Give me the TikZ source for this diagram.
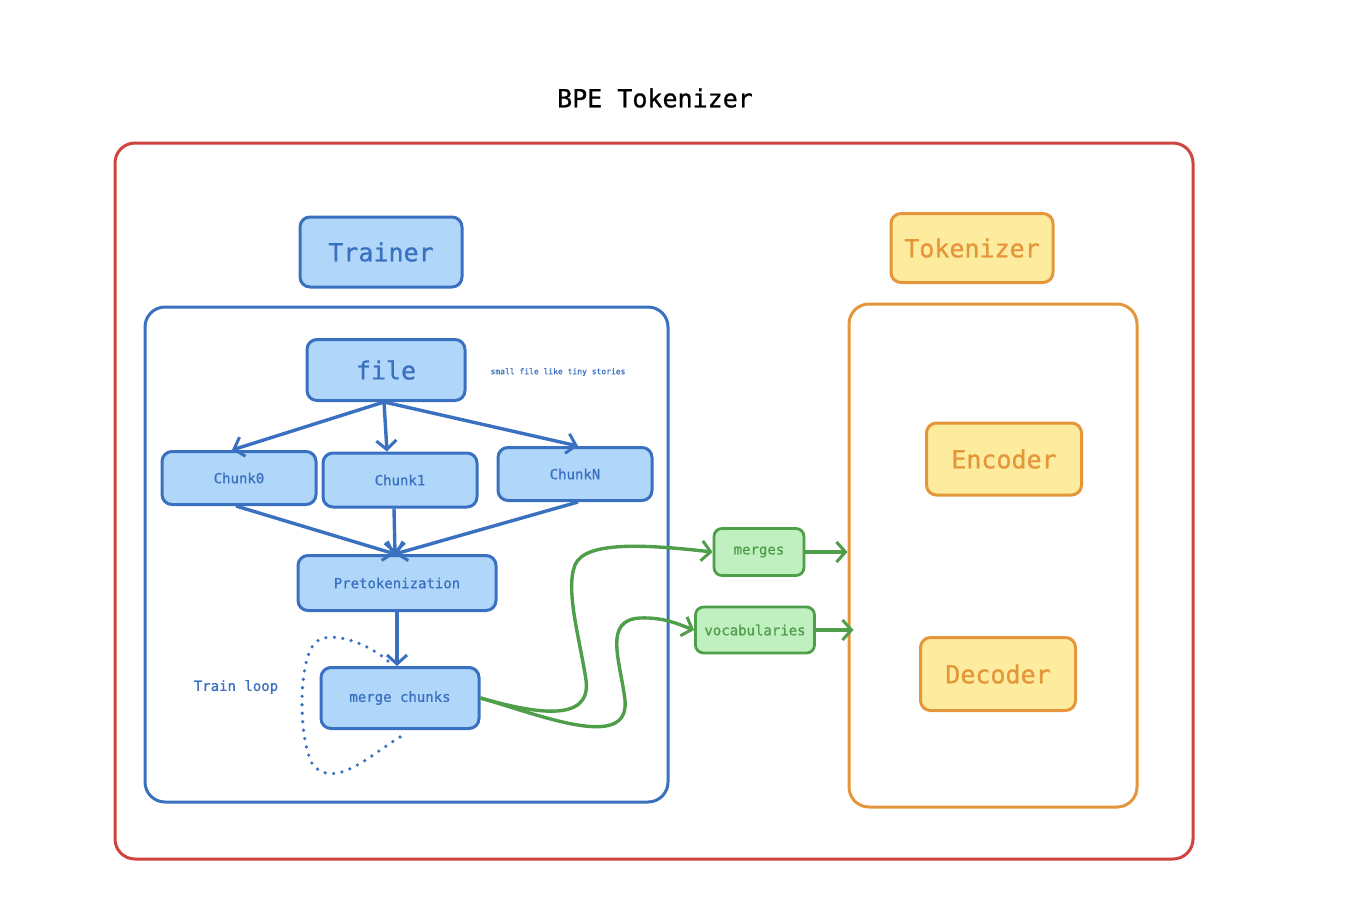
\documentclass[tikz,border=0pt]{standalone}
\usepackage{fontspec}
\setmainfont{DejaVu Sans Mono}[FakeBold=0.8]
\usetikzlibrary{arrows.meta}
\definecolor{bpered}{HTML}{D0443F}
\definecolor{bpeblue}{HTML}{3A70C0}
\definecolor{bpebluefill}{HTML}{B0D7FA}
\definecolor{bpeorange}{HTML}{E5963A}
\definecolor{bpeyellow}{HTML}{FDEC9E}
\definecolor{bpegreen}{HTML}{4F9E4A}
\definecolor{bpegreenfill}{HTML}{C0F0C0}
\def\fsz#1{\fontsize{#1}{#1}\selectfont}

\begin{document}
\begin{tikzpicture}[x=1pt, y=-1pt,
		bluebox/.style={draw=bpeblue, fill=bpebluefill, line width=3pt, rounded corners=10pt, inner sep=0pt, text=bpeblue},
		yellowbox/.style={draw=bpeorange, fill=bpeyellow, line width=3pt, rounded corners=10pt, inner sep=0pt, text=bpeorange},
		greenbox/.style={draw=bpegreen, fill=bpegreenfill, line width=2.8pt, rounded corners=8pt, inner sep=0pt, text=bpegreen},
		frame/.style={draw, line width=3pt, rounded corners=20pt, inner sep=0pt},
		barb/.style={-{Straight Barb[length=9pt, width=20pt, line width=3pt]}},
		bluearrow/.style={barb, draw=bpeblue, line width=3.4pt},
		greenarrow/.style={barb, draw=bpegreen, line width=3.4pt}]
			%%%%% START %%%%%
			\useasboundingbox (0, 0) rectangle (1358, 922);
			
			\node (title) at (655, 98) {\fsz{25}BPE Tokenizer};
			\node[frame, draw=bpered, minimum width=1078pt, minimum height=716pt] (outer) at (654, 501) {};
			
			% trainer side
			\node[bluebox, minimum width=162pt, minimum height=70pt] (trainer) at (381, 252) {\fsz{25}Trainer};
			\node[frame, draw=bpeblue, minimum width=523pt, minimum height=495pt] (trainbox) at (406.5, 554.5) {};
			
			\node[bluebox, minimum width=158pt, minimum height=61pt] (file) at (386, 370) {\fsz{25}file};
			\node[text=bpeblue] (note) at (558, 372) {\fsz{8}small file like tiny stories};
			
			\node[bluebox, minimum width=154pt, minimum height=53pt] (chunk0) at (239, 478) {\fsz{14}Chunk0};
			\node[bluebox, minimum width=154pt, minimum height=54pt] (chunk1) at (400, 480) {\fsz{14}Chunk1};
			\node[bluebox, minimum width=154pt, minimum height=53pt] (chunkN) at (575, 474) {\fsz{14}ChunkN};
			
			\node[bluebox, minimum width=198pt, minimum height=55pt] (pretok) at (397, 583) {\fsz{14}Pretokenization};
			\node[bluebox, minimum width=158pt, minimum height=61pt] (merge) at (400, 698) {\fsz{14}merge chunks};
			\node[text=bpeblue] (loop) at (236, 687) {\fsz{14}Train loop};
			
			\draw[bluearrow] (file.south) ++(-2, 0) coordinate (fileout) -- (chunk0.north -| 232, 0);
			\draw[bluearrow] (fileout) -- (chunk1.north -| 387, 0);
			\draw[bluearrow] (fileout) -- (chunkN.north -| 578, 0);
			\draw[bluearrow] (chunk0.south -| 236, 0) -- (pretok.north -| 395, 0);
			\draw[bluearrow] (chunk1.south -| 394, 0) -- (pretok.north -| 395, 0);
			\draw[bluearrow] (chunkN.south -| 578, 0) -- (pretok.north -| 395, 0);
			\draw[bluearrow] (pretok.south) -- (merge.north -| pretok.south);
			
			\coordinate (loopstart) at (400, 737);
			\coordinate (loopend) at (390, 663);
			\draw[bpeblue, line width=3.6pt, dash pattern=on 0pt off 8.5pt, line cap=round] (loopstart) .. controls (370, 755) and (335, 790) .. (313, 765)
				.. controls (298, 740) and (298, 660) .. (315, 643) .. controls (330, 628) and (372, 645) .. (loopend);
			
			% outputs
			\node[greenbox, minimum width=90pt, minimum height=47pt] (merges) at (759, 552) {\fsz{14}merges};
			\node[greenbox, minimum width=119pt, minimum height=46pt] (vocab) at (755, 630) {\fsz{14}vocabularies};
			
			\draw[greenarrow] (merge.east) .. controls (530, 712) and (592, 725) .. (586, 680)
				.. controls (580, 640) and (565, 590) .. (575, 565) .. controls (585, 540) and (650, 545) .. (merges.west);
			\draw[greenarrow] (merge.east) .. controls (540, 715) and (630, 752) .. (625, 700)
				.. controls (620, 660) and (603, 620) .. (640, 618) .. controls (665, 617) and (680, 625) .. (vocab.west);
			
			% tokenizer side
			\node[yellowbox, minimum width=162pt, minimum height=69pt] (tokenizer) at (972, 248) {\fsz{25}Tokenizer};
			\node[frame, draw=bpeorange, minimum width=288pt, minimum height=503pt] (tokbox) at (993, 555.5) {};
			\node[yellowbox, minimum width=155pt, minimum height=72pt] (encoder) at (1004, 459) {\fsz{25}Encoder};
			\node[yellowbox, minimum width=155pt, minimum height=73pt] (decoder) at (998, 674) {\fsz{25}Decoder};
			
			\draw[greenarrow] (merges.east) -- (tokbox.west |- merges.east);
			\draw[greenarrow] (vocab.east) -- ([xshift=6pt]tokbox.west |- vocab.east);
			%%%%% END %%%%%
		\end{tikzpicture}
\end{document}
